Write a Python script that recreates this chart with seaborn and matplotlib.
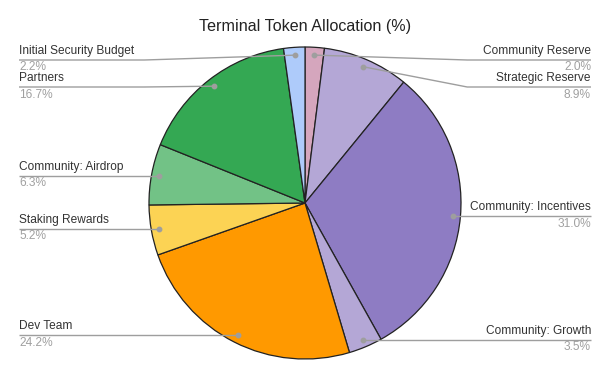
import numpy as np
import matplotlib
matplotlib.use("Agg")
import matplotlib.pyplot as plt
import seaborn as sns

sns.set_theme(style="white")
plt.rcParams['font.family'] = ['Liberation Sans', 'DejaVu Sans']

# slices, clockwise from 12 o'clock
labels = ["Community Reserve", "Strategic Reserve", "Community: Incentives",
          "Community: Growth", "Dev Team", "Staking Rewards",
          "Community: Airdrop", "Partners", "Initial Security Budget"]
shares = [2.0, 8.9, 31.0, 3.5, 24.2, 5.2, 6.3, 16.7, 2.2]
colors = ["#d5a6bd", "#b4a7d6", "#8e7cc3", "#b4a7d6", "#ff9900",
          "#fcd354", "#72c286", "#34a853", "#aecbfa"]

W, H = 610, 377
fig = plt.figure(figsize=(W / 100, H / 100), dpi=100)
ax = fig.add_axes([0, 0, 1, 1])

cx, cy, R = 305, H - 203, 156
wedges, _ = ax.pie(shares, colors=sns.color_palette(colors), startangle=90,
                   counterclock=False, center=(cx, cy), radius=R,
                   wedgeprops=dict(edgecolor="#222222", linewidth=0.9))
ax.set_xlim(0, W)
ax.set_ylim(0, H)
ax.set_aspect("equal")
ax.axis("off")

# leader lines and labels
line_col = "#9e9e9e"
top_limit = H - 60
gap = 27
items = []
for w, lab, val in zip(wedges, labels, shares):
    th = np.deg2rad((w.theta1 + w.theta2) / 2)
    dx, dy = cx + 0.95 * R * np.cos(th), cy + 0.95 * R * np.sin(th)
    items.append(dict(lab=lab, val=val, x=dx, y=dy, right=np.cos(th) > 0))

for side in (True, False):
    grp = sorted([it for it in items if it["right"] == side], key=lambda d: -d["y"])
    prev = top_limit + gap
    for it in grp:
        ly = min(it["y"], prev - gap)
        prev = ly
        edge = 591 if side else 19
        bend = cx + (1.04 * R if side else -1.03 * R)
        if abs(ly - it["y"]) > 0.5:
            xs, ys = [it["x"], bend, edge], [it["y"], ly, ly]
        else:
            xs, ys = [it["x"], edge], [ly, ly]
        ax.plot(xs, ys, color=line_col, lw=1.0, zorder=5, solid_capstyle="butt")
        ax.plot(it["x"], it["y"], "o", ms=3.2, color=line_col, zorder=6)
        ha = "right" if side else "left"
        ax.text(edge, ly + 3, it["lab"], ha=ha, va="bottom", fontsize=8.6,
                color="#333333")
        ax.text(edge, ly - 1.5, f"{it['val']:.1f}%", ha=ha, va="top",
                fontsize=8.6, color="#a0a0a0")

fig.text(0.5, 1 - 27 / H, "Terminal Token Allocation (%)", ha="center",
         va="center", fontsize=11.6, color="#222222")

fig.savefig("out.png", dpi=100, facecolor="white")
